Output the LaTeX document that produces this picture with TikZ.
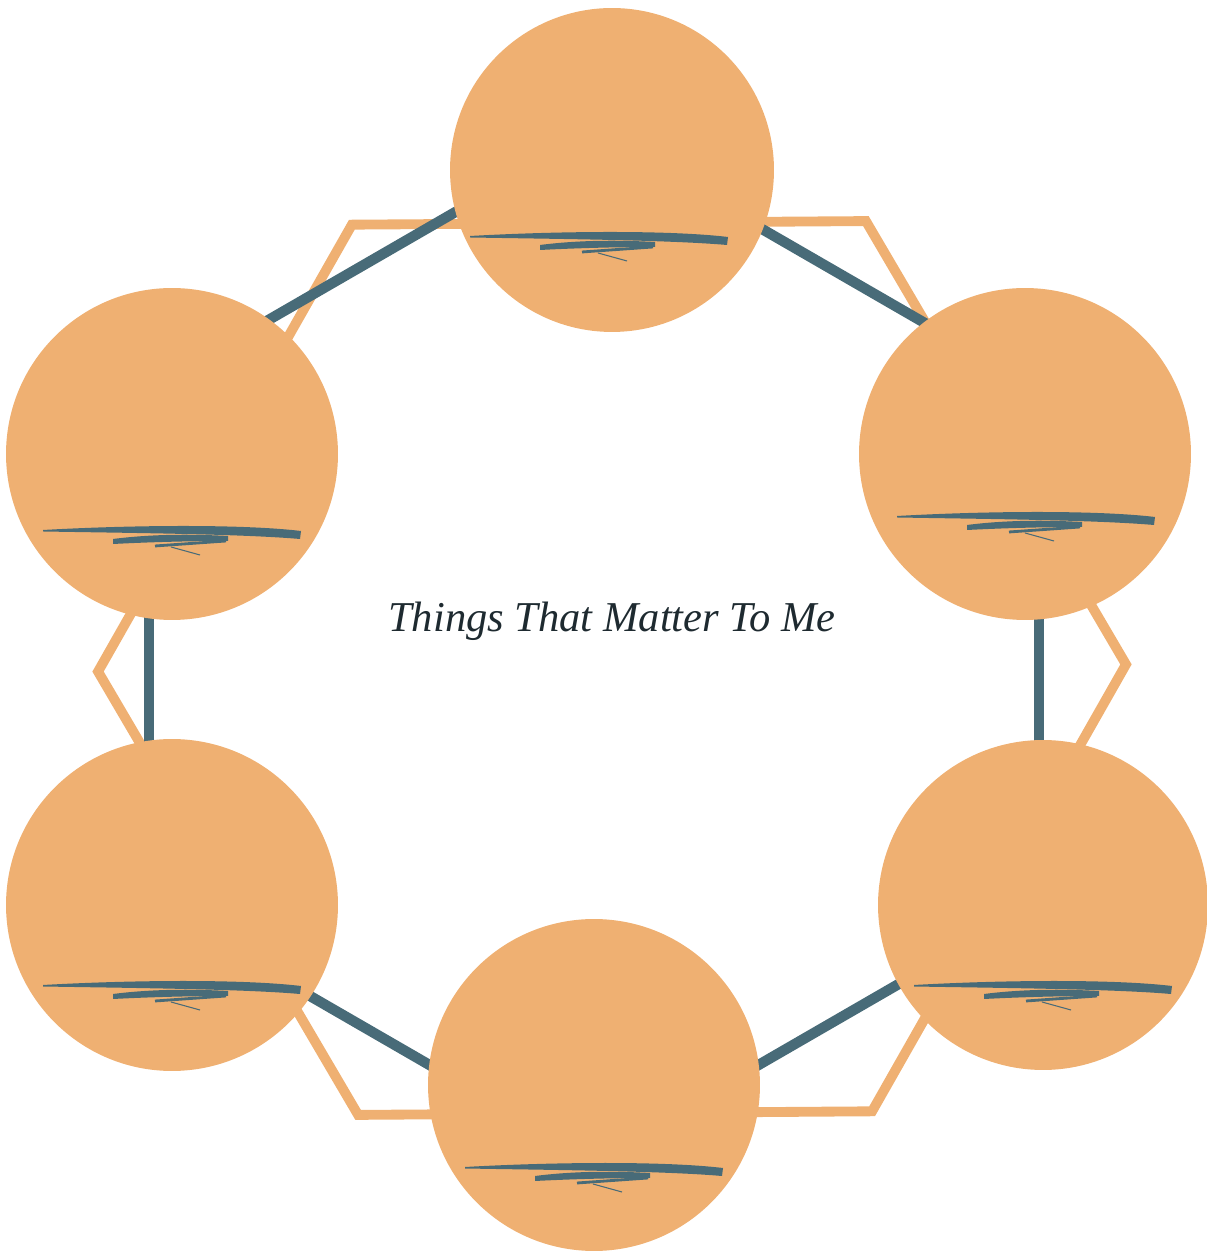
\documentclass[tikz,border=0pt]{standalone}
\usepackage{fontspec}
\setmainfont{Liberation Serif}
\usetikzlibrary{positioning}

\definecolor{peach}{RGB}{239,176,114}
\definecolor{slate}{RGB}{72,107,120}
\definecolor{inkdark}{RGB}{30,42,48}

\tikzset{
  bubble/.style={circle, fill=peach, inner sep=0pt},
  hexorange/.style={draw=peach, line width=5.6pt},
  hexslate/.style={draw=slate, line width=5.9pt},
  scribble/.pic={
    \fill[slate] (-129,0) .. controls (-40,5) and (70,6) .. (129,-1)
      -- (128,-9) .. controls (70,-4) and (-40,-3) .. (-129,-1.5) -- cycle;
    \fill[slate] (-59,-9) .. controls (-20,-4) and (20,-4) .. (56,-6)
      -- (56,-11) .. controls (20,-11) and (-20,-12) .. (-59,-14) -- cycle;
    \draw[slate, line width=1.6pt] (-17,-16) -- (54,-11);
    \draw[slate, line width=0.6pt] (-1,-17) -- (28,-25);
  }
}

\begin{document}
\begin{tikzpicture}[x=0.02cm, y=0.02cm]
      \useasboundingbox (0,0) rectangle (1207,1251);

      % outer hexagon
      \draw[hexorange, shift={(612,583)}, rotate=0.4]
        (0:514) -- (60:514) -- (120:514) -- (180:514) -- (240:514) -- (300:514) -- cycle;

      % inner hexagon corners
      \coordinate (vt) at (594,1119);
      \coordinate (vul) at (149,862);
      \coordinate (vll) at (149,348);
      \coordinate (vb) at (594,91);
      \coordinate (vlr) at (1039,348);
      \coordinate (vur) at (1039,862);

      \draw[hexslate] (vt) -- (vul);
      \draw[hexslate] (vul) -- (vll);
      \draw[hexslate] (vll) -- (vb);
      \draw[hexslate] (vb) -- (vlr);
      \draw[hexslate] (vlr) -- (vur);
      \draw[hexslate] (vur) -- (vt);

      % circles
      \node[bubble, minimum size=6.48cm] (top) at (612,1081) {};
      \node[bubble, minimum size=6.64cm] (upright) at (1025,797) {};
      \node[bubble, minimum size=6.6cm] (lowright) at (1043,346) {};
      \node[bubble, minimum size=6.64cm] (bottom) at (594,166) {};
      \node[bubble, minimum size=6.64cm] (lowleft) at (172,346) {};
      \node[bubble, minimum size=6.64cm] (upleft) at (172,797) {};

      % brush marks
      \pic at (599,1015) {scribble};
      \pic at (1026,735) {scribble};
      \pic at (1043,266) {scribble};
      \pic at (594,84) {scribble};
      \pic at (172,266) {scribble};
      \pic at (172,721) {scribble};

      \node[text=inkdark, font=\fontsize{24.2}{29}\selectfont\itshape] (title) at (612,630) {Things That Matter To Me};
\end{tikzpicture}
\end{document}
